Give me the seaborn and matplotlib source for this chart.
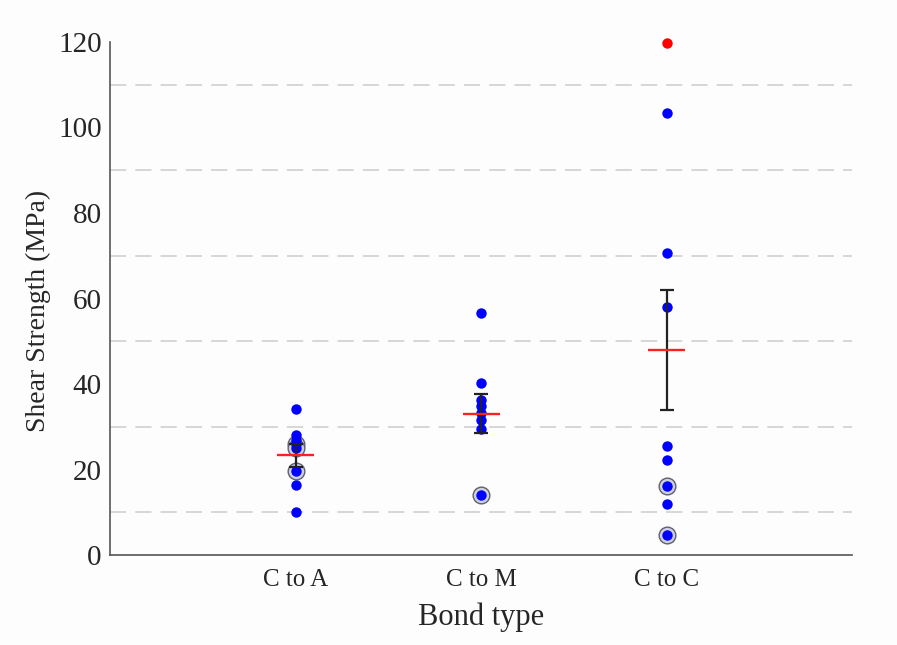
import numpy as np
import pandas as pd
import matplotlib
matplotlib.use("Agg")
import matplotlib.pyplot as plt
import seaborn as sns

# ---- data ----
categories = ["C to A", "C to M", "C to C"]
ca_values = [34.2, 28.0, 27.0, 26.0, 25.0, 19.6, 16.4, 10.0]
cm_values = [56.7, 40.3, 36.3, 34.8, 33.3, 31.6, 29.4, 14.0]
cc_values = [103.5, 70.7, 58.0, 25.6, 22.2, 16.2, 11.9, 4.7]
ca_circled = [26.0, 25.0, 19.6]
cm_circled = [14.0]
cc_circled = [16.2, 4.7]
outlier_cat = ["C to C"]
outlier_val = [119.8]
mean_values = [23.3, 33.1, 48.0]
sem_values = [2.7, 4.5, 14.0]
y_ticks = [0, 20, 40, 60, 80, 100, 120]
grid_levels = [10, 30, 50, 70, 90, 110]

points = pd.DataFrame({
    "Bond type": ["C to A"] * len(ca_values) + ["C to M"] * len(cm_values) + ["C to C"] * len(cc_values),
    "Shear": ca_values + cm_values + cc_values,
})
circled = pd.DataFrame({
    "Bond type": ["C to A"] * len(ca_circled) + ["C to M"] * len(cm_circled) + ["C to C"] * len(cc_circled),
    "Shear": ca_circled + cm_circled + cc_circled,
})
outliers = pd.DataFrame({"Bond type": outlier_cat, "Shear": outlier_val})
summary = pd.DataFrame({"Bond type": categories, "mean": mean_values, "sem": sem_values})

sns.set_style("white")
plt.rcParams["font.family"] = ["Liberation Serif", "DejaVu Serif"]

fig = plt.figure(figsize=(8.97, 6.45), dpi=100)
fig.patch.set_facecolor("#fdfdfd")
ax = fig.add_axes([0.1226, 0.1395, 0.8274, 0.7954])
ax.set_facecolor("#fdfdfd")

# dashed reference lines
for lv in grid_levels:
    ax.axhline(lv, color="#d4d4d4", lw=1.3, ls=(0, (9, 5)), zorder=0)

# ring markers behind some points
sns.stripplot(data=circled, x="Bond type", y="Shear", order=categories, jitter=False,
              ax=ax, marker="o", size=12, facecolor="#cdd0e0", edgecolor="#60606e",
              linewidth=1.0, zorder=2)
sns.stripplot(data=points, x="Bond type", y="Shear", order=categories, jitter=False,
              ax=ax, color="#0000ff", size=7.5, linewidth=0, zorder=3)
sns.stripplot(data=outliers, x="Bond type", y="Shear", order=categories, jitter=False,
              ax=ax, color="#ff0000", size=7.5, linewidth=0, zorder=3)
for coll in ax.collections:
    coll.set_clip_on(False)

xpos = np.arange(len(categories))
ax.errorbar(xpos, summary["mean"], yerr=summary["sem"], fmt="none", ecolor="#222222",
            elinewidth=1.6, capsize=5, capthick=1.6, zorder=4)
ax.hlines(summary["mean"], xpos - 0.1, xpos + 0.1, color="#ff2020", lw=1.7, zorder=5)

ax.set_xlim(-1, 3)
ax.set_ylim(0, 120)
ax.set_yticks(y_ticks)
ax.set_xticks(xpos)
ax.set_xticklabels(categories)
ax.set_xlabel("Bond type", fontsize=22, labelpad=8)
ax.set_ylabel("Shear Strength (MPa)", fontsize=20)
ax.yaxis.set_label_coords(-0.080, 0.475)
ax.tick_params(axis="y", labelsize=21, direction="out", length=4, width=1, color="#555555", pad=2)
ax.tick_params(axis="x", labelsize=18, direction="in", length=5, width=1, color="#555555", pad=10)

for s in ["top", "right"]:
    ax.spines[s].set_visible(False)
for s in ["left", "bottom"]:
    ax.spines[s].set_color("#555555")
    ax.spines[s].set_linewidth(1.2)

fig.savefig("out.png", dpi=100, facecolor=fig.get_facecolor())
